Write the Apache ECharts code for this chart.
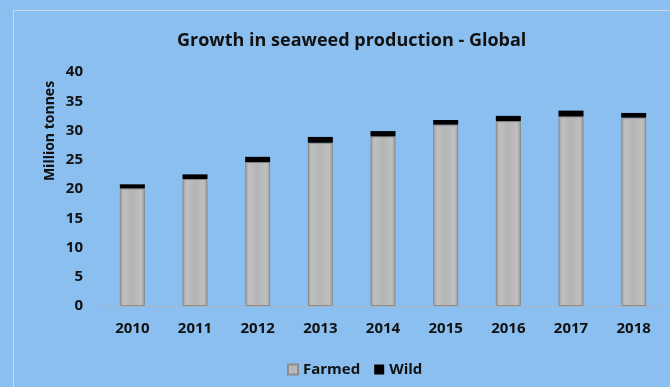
<!DOCTYPE html>
<html><head><meta charset="utf-8">
<script src="https://cdn.jsdelivr.net/npm/echarts@6/dist/echarts.min.js"></script>
<style>html,body{margin:0;padding:0;background:#8abff0;}#c{width:670px;height:387px;}</style>
</head><body><div id="c"></div>
<script>
const years = ['2010','2011','2012','2013','2014','2015','2016','2017','2018'];
const farmed = [20.1, 21.7, 24.6, 27.9, 29.0, 31.0, 31.6, 32.4, 32.2];
const wild = [0.7, 0.8, 0.9, 1.0, 0.9, 0.8, 0.9, 1.0, 0.8];
const yTicks = [0, 5, 10, 15, 20, 25, 30, 35, 40];

const font = '"Open Sans", "Liberation Sans", sans-serif';
const greyFill = new echarts.graphic.LinearGradient(0, 0, 1, 0, [
  {offset: 0, color: '#9a9a9a'},
  {offset: 0.15, color: '#c0c0c0'},
  {offset: 0.5, color: '#b4b4b4'},
  {offset: 0.85, color: '#c0c0c0'},
  {offset: 1, color: '#9a9a9a'}
]);
const chart = echarts.init(document.getElementById('c'), null, {renderer: 'canvas'});
chart.setOption({
  backgroundColor: '#8abff0',
  animation: false,
  title: {
    text: 'Growth in seaweed production - Global',
    left: 172, top: 27,
    textStyle: {fontFamily: font, fontSize: 18, fontWeight: 'bold', color: '#111'}
  },
  legend: {
    top: 357, left: 282, itemWidth: 10, itemHeight: 10, itemGap: 14,
    icon: 'rect',
    textStyle: {fontFamily: font, fontSize: 15, fontWeight: 'bold', color: '#111'},
    data: ['Farmed', 'Wild']
  },
  grid: {left: 101, right: 5, top: 72, bottom: 81},
  xAxis: {
    type: 'category', data: years,
    axisLine: {lineStyle: {color: '#a8b4c0', width: 1}},
    axisTick: {show: false},
    axisLabel: {fontFamily: font, fontSize: 15, fontWeight: 'bold', color: '#111', margin: 15}
  },
  yAxis: {
    type: 'value', min: yTicks[0], max: yTicks[yTicks.length - 1], interval: 5,
    axisLine: {show: false}, axisTick: {show: false}, splitLine: {show: false},
    axisLabel: {fontFamily: font, fontSize: 15, fontWeight: 'bold', color: '#111', margin: 18}
  },
  graphic: [
    {type: 'rect', shape: {x: 13.5, y: 10.5, width: 700, height: 400},
     style: {fill: 'none', stroke: '#c9d9ea', lineWidth: 1}, silent: true, z: -1},
    {type: 'text', x: 50, y: 131, rotation: Math.PI / 2,
     style: {text: 'Million tonnes', font: 'bold 14px ' + font, fill: '#111',
             align: 'center', verticalAlign: 'middle'}}
  ],
  series: [
    {name: 'Farmed', type: 'bar', stack: 't', barWidth: 25, data: farmed,
     itemStyle: {color: greyFill, borderColor: '#8c8c8c', borderWidth: 1}},
    {name: 'Wild', type: 'bar', stack: 't', barWidth: 25, data: wild,
     itemStyle: {color: '#000'}}
  ]
});
</script></body></html>
